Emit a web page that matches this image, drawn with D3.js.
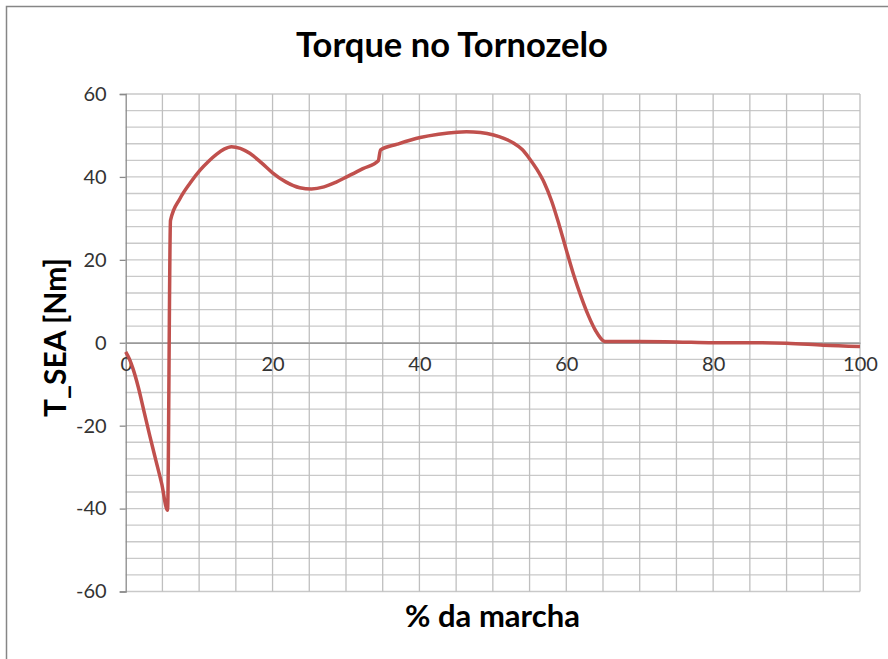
<!DOCTYPE html>
<html>
<head>
<meta charset="utf-8">
<script src="https://cdn.jsdelivr.net/npm/d3@7"></script>
<style>
  html, body { margin: 0; padding: 0; background: #fff; }
  svg { display: block; }
  text { font-family: Lato, "Open Sans", sans-serif; }
</style>
</head>
<body>
<svg id="chart" width="888" height="659"></svg>
<script>
// Ankle torque over the gait cycle (% of stride)
const gaitPct = [0, 0.5, 1.0, 1.7, 2.5, 3.3, 4.1, 4.9, 5.7, 6.1, 7.4, 8.8, 10.1, 11.3, 12.4, 13.4, 14.4,
  15.6, 16.9, 18.5, 20, 21.8, 23.7, 25.3, 27, 28.6, 30.1, 32.3, 34.4, 34.7, 37, 40.1, 42.6,
  45.1, 46.4, 48.3, 50.1, 51.5, 52.8, 54, 55, 56, 57, 58, 59, 60, 61, 62, 63, 64, 65.3,
  70, 75, 80, 85, 90, 95, 100];
const torqueNm = [-2.2, -3.9, -6.3, -10.6, -16.6, -22.6, -28.3, -34.0, -40.4, 29.5, 34.8, 38.6, 41.6, 43.8, 45.5, 46.7, 47.3,
  46.9, 45.7, 43.4, 41.0, 38.8, 37.4, 37.1, 37.6, 38.7, 40.0, 42.0, 43.9, 46.5, 47.9, 49.5, 50.3,
  50.8, 50.9, 50.7, 50.1, 49.3, 48.2, 46.6, 44.4, 41.8, 38.6, 34.2, 28.6, 22.4, 16.4, 11.2, 6.6, 2.9, 0.3,
  0.3, 0.2, 0.0, 0.0, -0.1, -0.6, -0.9];

const xTicks = [0, 20, 40, 60, 80, 100];
const yTicks = [-60, -40, -20, 0, 20, 40, 60];
const xGrid = d3.range(0, 101, 5);
const yGrid = d3.range(-60, 61, 4);

const titleText = "Torque no Tornozelo";
const xTitle = "% da marcha";
const yTitle = "T_SEA [Nm]";

const svg = d3.select("#chart");
const plot = { left: 125.7, right: 860, top: 94, bottom: 591.5 };

const x = d3.scaleLinear().domain([0, 100]).range([plot.left, plot.right]);
const y = d3.scaleLinear().domain([-60, 60]).range([plot.bottom, plot.top]);

// chart frame
svg.append("rect")
  .attr("x", 6.5).attr("y", 6.5).attr("width", 1000).attr("height", 1000)
  .attr("fill", "#fff").attr("stroke", "#868686").attr("stroke-width", 1.5);

// gridlines
svg.append("g").selectAll("line").data(yGrid).join("line")
  .attr("x1", plot.left).attr("x2", plot.right)
  .attr("y1", d => y(d)).attr("y2", d => y(d))
  .attr("stroke", "#c9c9c9").attr("stroke-width", 1.3);
svg.append("g").selectAll("line").data(xGrid.filter(d => d > 0)).join("line")
  .attr("x1", d => x(d)).attr("x2", d => x(d))
  .attr("y1", plot.top).attr("y2", plot.bottom)
  .attr("stroke", "#bfbfbf").attr("stroke-width", 1.3);

// left axis with outside ticks
const yAxis = d3.axisLeft(y).tickValues(yTicks).tickSize(6).tickPadding(13).tickFormat(d => String(d));
const gy = svg.append("g").attr("transform", `translate(${plot.left},0)`).call(yAxis);
gy.select(".domain").attr("stroke", "#8a8a8a").attr("stroke-width", 1.3);
gy.selectAll(".tick line").attr("stroke", "#8a8a8a").attr("stroke-width", 1.3);
gy.selectAll(".tick text").attr("font-size", 20).attr("fill", "#333")
  .attr("font-family", "Lato, sans-serif");

// horizontal axis crossing at zero
const xAxis = d3.axisBottom(x).tickValues(xTicks).tickSize(0).tickPadding(14).tickFormat(d => String(d));
const gx = svg.append("g").attr("transform", `translate(0,${y(0)})`).call(xAxis);
gx.select(".domain").attr("stroke", "#9a9a9a").attr("stroke-width", 1.5);
gx.selectAll(".tick text").attr("font-size", 20).attr("fill", "#333")
  .attr("font-family", "Lato, sans-serif");

// torque curve
const pts = gaitPct.map((p, i) => [p, torqueNm[i]]);
const line = d3.line().x(d => x(d[0])).y(d => y(d[1])).curve(d3.curveMonotoneX);
svg.append("path").datum(pts)
  .attr("d", line)
  .attr("fill", "none")
  .attr("stroke", "#c0504d")
  .attr("stroke-width", 3.5)
  .attr("stroke-linejoin", "round");

// titles, sized to their set widths
function fitText(sel, width, start) {
  let fs = start;
  sel.attr("font-size", fs);
  const w = sel.node().getComputedTextLength();
  fs = fs * width / w;
  sel.attr("font-size", fs);
}

const t = svg.append("text").text(titleText)
  .attr("x", 452).attr("y", 57)
  .attr("text-anchor", "middle").attr("font-weight", "bold").attr("fill", "#000");
fitText(t, 312, 32);

const xt = svg.append("text").text(xTitle)
  .attr("x", 492.5).attr("y", 627)
  .attr("text-anchor", "middle").attr("font-weight", "bold").attr("fill", "#000");
fitText(xt, 175, 30);

const yt = svg.append("text").text(yTitle)
  .attr("transform", "translate(66,337.5) rotate(-90)")
  .attr("text-anchor", "middle").attr("font-weight", "bold").attr("fill", "#000");
fitText(yt, 159, 30);
</script>
</body>
</html>
